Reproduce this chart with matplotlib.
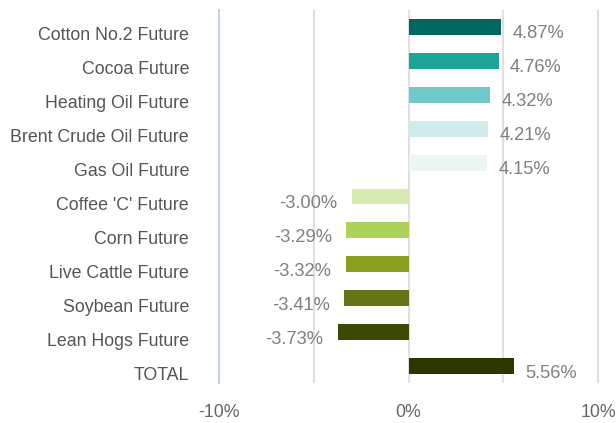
import matplotlib.pyplot as plt
import matplotlib.transforms as mtransforms
from matplotlib.ticker import FixedLocator

categories = ["Cotton No.2 Future", "Cocoa Future", "Heating Oil Future",
              "Brent Crude Oil Future", "Gas Oil Future", "Coffee 'C' Future",
              "Corn Future", "Live Cattle Future", "Soybean Future",
              "Lean Hogs Future", "TOTAL"]
values = [4.87, 4.76, 4.32, 4.21, 4.15, -3.00, -3.29, -3.32, -3.41, -3.73, 5.56]
colors = ["#00665e", "#1aa597", "#70cacb", "#d0ebec", "#ecf6f3", "#d9e9b2",
          "#acd25a", "#8ba023", "#637414", "#3a4a04", "#2a3800"]
tick_vals = [-10, 0, 10]
tick_labels = ["-10%", "0%", "10%"]

plt.rcParams["font.family"] = ["Liberation Sans", "DejaVu Sans"]

fig = plt.figure(figsize=(6.16, 4.23), dpi=100)
W, H = 616, 423
ax = fig.add_axes([219 / W, 40 / H, (616 - 219) / W, 373 / H])

y = list(range(len(categories)))
ax.barh(y, values, height=0.47, color=colors, zorder=2)
ax.set_ylim(len(categories) - 0.5, -0.5)
ax.set_xlim(-10, -10 + 20 * 397 / 379)

# value labels, sitting a little below the bar centre
shift = mtransforms.ScaledTranslation(0, -7 / 100, fig.dpi_scale_trans)
for yi, v in zip(y, values):
    off = 0.6 if v > 0 else -0.75
    ax.text(v + off, yi, f"{v:.2f}%", ha="left" if v > 0 else "right",
            va="center", fontsize=13.2, color="#808080",
            transform=ax.transData + shift)

# category labels, also shifted down
ax.set_yticks(y)
ax.set_yticklabels([])
lshift = mtransforms.ScaledTranslation(-30 / 100, -9 / 100, fig.dpi_scale_trans)
for yi, c in zip(y, categories):
    ax.text(0, yi, c, ha="right", va="center", fontsize=12.8, color="#555555",
            transform=ax.get_yaxis_transform() + lshift)
ax.tick_params(axis="y", length=0)

ax.xaxis.set_major_locator(FixedLocator(tick_vals))
ax.set_xticklabels(tick_labels, fontsize=12.8, color="#666666")
ax.xaxis.set_minor_locator(FixedLocator([-5, 5]))
ax.tick_params(axis="x", which="both", length=0, pad=15)
ax.grid(axis="x", which="both", color="#e0e0e0", linewidth=1.5, zorder=0)

for s in ["top", "right", "bottom"]:
    ax.spines[s].set_visible(False)
ax.spines["left"].set_color("#c5d3e8")
ax.spines["left"].set_linewidth(1.5)

fig.savefig("out.png", dpi=100)
